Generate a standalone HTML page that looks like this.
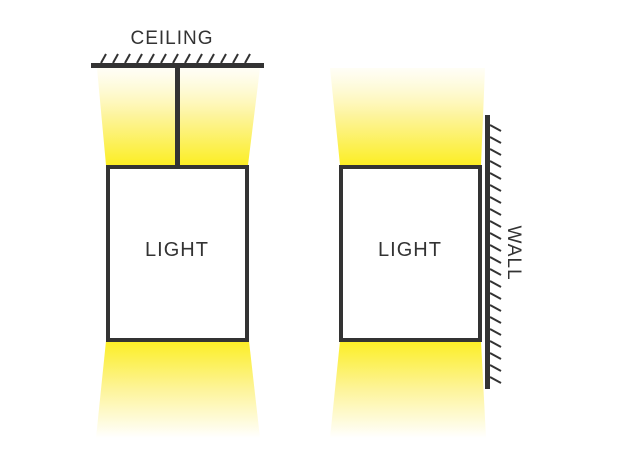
<!DOCTYPE html>
<html><head><meta charset="utf-8"><style>
html,body{margin:0;padding:0;background:#fff;width:620px;height:465px;overflow:hidden}
svg{display:block}
text{font-family:"Liberation Sans",sans-serif;fill:#333;letter-spacing:1px}
</style></head><body>
<svg width="620" height="465" viewBox="0 0 620 465">
<defs>
<linearGradient id="up" x1="0" y1="0" x2="0" y2="1">
<stop offset="0" stop-color="#fffdf0" stop-opacity="0.6"/>
<stop offset="0.5" stop-color="#fdf49a"/>
<stop offset="1" stop-color="#fcee25"/>
</linearGradient>
<linearGradient id="down" x1="0" y1="0" x2="0" y2="1">
<stop offset="0" stop-color="#fcee25"/>
<stop offset="0.5" stop-color="#fdf49a"/>
<stop offset="1" stop-color="#ffffff"/>
</linearGradient>
</defs>
<!-- left beams -->
<polygon points="97,68 260,68 248,165 106,165" fill="url(#up)"/>
<polygon points="106,341 249,341 260,438 96,438" fill="url(#down)"/>
<!-- right beams -->
<polygon points="330,68 485,68 481,165 340,165" fill="url(#up)"/>
<polygon points="340,341 481,341 486,438 330,438" fill="url(#down)"/>
<!-- ceiling -->
<rect x="91" y="63" width="173" height="5" fill="#333"/>
<g stroke="#333" stroke-width="2">
<line x1="101" y1="63" x2="106" y2="54"/><line x1="113" y1="63" x2="118" y2="54"/>
<line x1="125" y1="63" x2="130" y2="54"/><line x1="137" y1="63" x2="142" y2="54"/>
<line x1="149" y1="63" x2="154" y2="54"/><line x1="161" y1="63" x2="166" y2="54"/>
<line x1="173" y1="63" x2="178" y2="54"/><line x1="185" y1="63" x2="190" y2="54"/>
<line x1="197" y1="63" x2="202" y2="54"/><line x1="209" y1="63" x2="214" y2="54"/>
<line x1="221" y1="63" x2="226" y2="54"/><line x1="233" y1="63" x2="238" y2="54"/>
<line x1="245" y1="63" x2="250" y2="54"/>
</g>
<rect x="175" y="66" width="5" height="100" fill="#333"/>
<text x="172" y="44" font-size="19" text-anchor="middle">CEILING</text>
<!-- left box -->
<rect x="108" y="167" width="139" height="173" fill="#fff" stroke="#333" stroke-width="4"/>
<text x="177" y="256" font-size="20" text-anchor="middle">LIGHT</text>
<!-- right box -->
<rect x="341" y="167" width="139" height="173" fill="#fff" stroke="#333" stroke-width="4"/>
<text x="410" y="256" font-size="20" text-anchor="middle">LIGHT</text>
<!-- wall -->
<rect x="485" y="115" width="5" height="274" fill="#333"/>
<g stroke="#333" stroke-width="2" id="wh">
<line x1="490" y1="125" x2="501" y2="131"/><line x1="490" y1="137" x2="501" y2="143"/>
<line x1="490" y1="149" x2="501" y2="155"/><line x1="490" y1="161" x2="501" y2="167"/>
<line x1="490" y1="173" x2="501" y2="179"/><line x1="490" y1="185" x2="501" y2="191"/>
<line x1="490" y1="197" x2="501" y2="203"/><line x1="490" y1="209" x2="501" y2="215"/>
<line x1="490" y1="221" x2="501" y2="227"/><line x1="490" y1="233" x2="501" y2="239"/>
<line x1="490" y1="245" x2="501" y2="251"/><line x1="490" y1="257" x2="501" y2="263"/>
<line x1="490" y1="269" x2="501" y2="275"/><line x1="490" y1="281" x2="501" y2="287"/>
<line x1="490" y1="293" x2="501" y2="299"/><line x1="490" y1="305" x2="501" y2="311"/>
<line x1="490" y1="317" x2="501" y2="323"/><line x1="490" y1="329" x2="501" y2="335"/>
<line x1="490" y1="341" x2="501" y2="347"/><line x1="490" y1="353" x2="501" y2="359"/>
<line x1="490" y1="365" x2="501" y2="371"/><line x1="490" y1="377" x2="501" y2="383"/>
</g>
<text x="0" y="0" font-size="19" text-anchor="middle" transform="translate(508,253) rotate(90)">WALL</text>
</svg>
</body></html>
